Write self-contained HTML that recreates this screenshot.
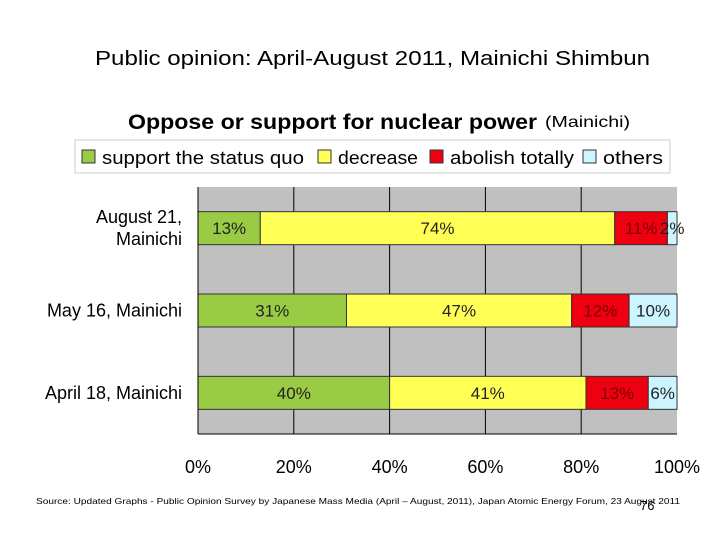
<!DOCTYPE html>
<html><head><meta charset="utf-8"><style>
body{margin:0;background:#fff;}
svg text{font-family:"Liberation Sans",sans-serif;}
</style></head><body>
<svg width="720" height="540" viewBox="0 0 720 540" xmlns="http://www.w3.org/2000/svg">
<text x="95" y="65" font-size="20" textLength="555" lengthAdjust="spacingAndGlyphs">Public opinion: April-August 2011, Mainichi Shimbun</text>
<text x="128" y="129" font-size="21" font-weight="bold" textLength="409" lengthAdjust="spacingAndGlyphs">Oppose or support for nuclear power</text>
<text x="545" y="127" font-size="16" textLength="85" lengthAdjust="spacingAndGlyphs">(Mainichi)</text>
<rect x="75" y="140" width="595" height="33" fill="#fff" stroke="#ccc"/>
<g id="legend" font-size="18"></g>
<rect x="198" y="187" width="479" height="247" fill="#c0c0c0"/>
<g id="grid"></g>
<g id="bars"></g>
<g id="cats" font-size="18"></g>
<g id="ticks" font-size="18"></g>
<line x1="198" y1="187" x2="198" y2="434" stroke="#000"/>
<line x1="198" y1="434" x2="677" y2="434" stroke="#000"/>
<text x="36" y="504" font-size="8.5" textLength="644" lengthAdjust="spacingAndGlyphs">Source: Updated Graphs - Public Opinion Survey by Japanese Mass Media (April – August, 2011), Japan Atomic Energy Forum, 23 August 2011</text>
<text x="640" y="510" font-size="13">76</text>
</svg>
<script>
const categories=[["August 21,","Mainichi"],["May 16, Mainichi"],["April 18, Mainichi"]];
const seriesNames=["support the status quo","decrease","abolish totally","others"];
const support=[13,31,40];
const decrease=[74,47,41];
const abolish=[11,12,13];
const others=[2,10,6];
const ticks=[0,20,40,60,80,100];
const colors=["#99cc44","#ffff55","#ee0011","#ccf5ff"];
const textColors=["#222","#222","#7a0000","#222"];
const ns="http://www.w3.org/2000/svg";
const X0=198,X1=677,Y0=187,Y1=434;
const xs=v=>X0+(X1-X0)*v/100;
const band=(Y1-Y0)/categories.length;
const yc=i=>Y0+band*(i+0.5);
function mk(t,a,p){const e=document.createElementNS(ns,t);for(const k in a)e.setAttribute(k,a[k]);p.appendChild(e);return e;}
const grid=document.getElementById('grid');
ticks.forEach(t=>{if(t>0&&t<100){const l=mk('line',{x1:xs(t),x2:xs(t),y1:Y0,y2:Y1,stroke:'#000'},grid);

}
const tx=mk('text',{x:xs(t),y:473,'text-anchor':'middle'},document.getElementById('ticks'));tx.textContent=t+'%';

});
const series=[support,decrease,abolish,others];
const bars=document.getElementById('bars');
categories.forEach((c,i)=>{let acc=0;const y=yc(i),h=33;
series.forEach((s,k)=>{const v=s[i];const r=mk('rect',{x:xs(acc),y:y-h/2,width:xs(acc+v)-xs(acc),height:h,fill:colors[k],stroke:'#333','stroke-width':1},bars);


const t=mk('text',{x:(xs(acc)+xs(acc+v))/2,y:y+6,'text-anchor':'middle','font-size':17,fill:textColors[k]},bars);t.textContent=v+'%';


acc+=v;});
const cg=document.getElementById('cats');
c.forEach((line,j)=>{const t=mk('text',{x:182,y:y+6+(j-(c.length-1)/2)*22,'text-anchor':'end'},cg);t.textContent=line;

});
});
const lg=document.getElementById('legend');
const lx=[82,318,430,583];
const lw=[202,80,124,60];
seriesNames.forEach((n,k)=>{const r=mk('rect',{x:lx[k],y:150,width:13,height:13,fill:colors[k],stroke:'#333'},lg);


const t=mk('text',{x:lx[k]+20,y:164,textLength:lw[k],lengthAdjust:'spacingAndGlyphs'},lg);t.textContent=n;

});
</script>
</body></html>
